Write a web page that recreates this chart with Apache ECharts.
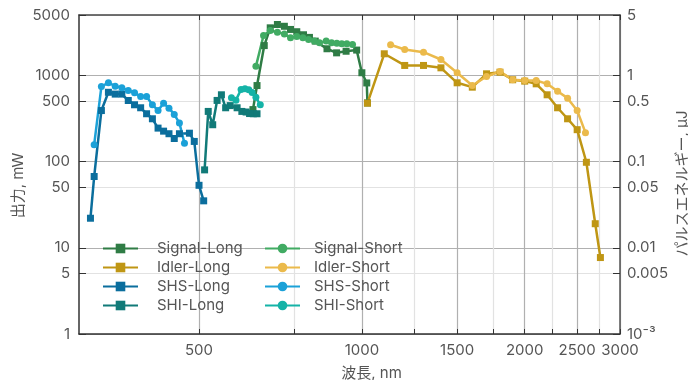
<!DOCTYPE html>
<html>
<head>
<meta charset="utf-8">
<script src="https://cdn.jsdelivr.net/npm/echarts@6/dist/echarts.min.js"></script>
<style>
  html, body { margin: 0; padding: 0; background: #fff; }
  #chart { width: 688px; height: 380px; }
</style>
</head>
<body>
<div id="chart"></div>
<script>
// 波長 (nm) と出力 (mW)
const signalLongWl = [629, 640, 660, 677, 698, 719, 738, 758, 780, 800, 820, 862, 898, 935, 978, 1000, 1021, 1024];
const signalLongPw = [400, 760, 2210, 3550, 3880, 3700, 3400, 3200, 2950, 2750, 2490, 2030, 1820, 1900, 1960, 1070, 815, 478];
const signalShortWl = [637, 658, 677, 698, 719, 738, 758, 778, 797, 817, 835, 859, 879, 899, 918, 938, 961];
const signalShortPw = [1270, 2890, 3300, 3150, 3020, 2720, 2820, 2720, 2600, 2490, 2380, 2490, 2380, 2350, 2320, 2320, 2280];
const idlerLongWl = [1024, 1100, 1200, 1300, 1400, 1500, 1600, 1700, 1800, 1900, 2000, 2100, 2200, 2300, 2400, 2500, 2600, 2700, 2760];
const idlerLongPw = [475, 1775, 1300, 1300, 1220, 818, 728, 1040, 1086, 887, 855, 796, 594, 420, 313, 234, 98, 19, 7.7];
const idlerShortWl = [1130, 1200, 1300, 1400, 1500, 1600, 1700, 1800, 1900, 2000, 2100, 2200, 2300, 2400, 2500, 2590];
const idlerShortPw = [2256, 1990, 1852, 1523, 1069, 762, 968, 1107, 887, 870, 870, 796, 654, 543, 391, 216];
const shsLongWl = [315, 320, 330, 340, 350, 360, 370, 380, 390, 400, 410, 420, 430, 440, 450, 460, 480, 490, 500, 510];
const shsLongPw = [22, 67, 390, 635, 605, 605, 510, 455, 420, 358, 313, 244, 225, 210, 185, 210, 213, 171, 53, 35];
const shsShortWl = [320, 330, 340, 350, 360, 370, 380, 390, 400, 410, 420, 430, 440, 450, 460, 470];
const shsShortPw = [157, 740, 820, 748, 716, 667, 627, 568, 568, 455, 391, 475, 416, 352, 279, 163];
const shiLongWl = [512, 520, 530, 540, 550, 560, 571, 588, 600, 611, 620, 630, 640];
const shiLongPw = [80, 381, 267, 511, 594, 420, 445, 420, 381, 375, 360, 358, 358];
const shiShortWl = [574, 585, 598, 608, 618, 627, 637, 649];
const shiShortPw = [549, 515, 685, 697, 680, 630, 555, 455];

const xTicks = [500, 750, 1000, 1250, 1500, 1750, 2000, 2250, 2500, 2750, 3000];
const xLabels = [500, 1000, 1500, 2000, 2500, 3000];
const yTicks = [1, 5, 10, 50, 100, 500, 1000, 5000];
const y2Ticks = [0.001, 0.005, 0.01, 0.05, 0.1, 0.5, 1, 5];

const font = "Inter, 'Noto Sans CJK JP', sans-serif";
const textColor = "#555";

function pairs(wl, pw) {
  return wl.map((w, i) => [w, pw[i]]);
}

// 桁区切りなしで表示
function plain(v) {
  return String(Math.round(v));
}

function makeSeries(name, wl, pw, color, symbol) {
  return {
    name: name,
    type: "line",
    data: pairs(wl, pw),
    symbol: symbol,
    symbolSize: 7,
    showSymbol: true,
    lineStyle: { width: 2.5, color: color },
    itemStyle: { color: color },
    emphasis: { disabled: true },
  };
}

function legendText(gap) {
  return {
    color: textColor,
    fontFamily: font,
    fontSize: 15,
    padding: [0, 0, 0, gap],
  };
}

const option = {
  animation: false,
  grid: { left: 79, right: 68, top: 15, bottom: 46, outerBoundsMode: "none" },
  legend: [
    {
      orient: "vertical",
      left: 102,
      top: 241,
      padding: 0,
      itemWidth: 35,
      itemHeight: 12,
      itemGap: 4,
      textStyle: legendText(14),
      data: ["Signal-Long", "Idler-Long", "SHS-Long", "SHI-Long"],
    },
    {
      orient: "vertical",
      left: 264,
      top: 241,
      padding: 0,
      itemWidth: 35,
      itemHeight: 12,
      itemGap: 4,
      textStyle: legendText(9),
      data: ["Signal-Short", "Idler-Short", "SHS-Short", "SHI-Short"],
    },
  ],
  xAxis: [
    {
      type: "log",
      logBase: 10,
      min: 300,
      max: 3000,
      name: "波長, nm",
      nameLocation: "middle",
      nameGap: 32,
      nameTextStyle: { color: textColor, fontFamily: font, fontSize: 15, padding: [0, 0, 0, 44] },
      axisLine: { lineStyle: { color: "#333", width: 1.5 } },
      axisTick: { inside: true, length: 5, customValues: xTicks, lineStyle: { color: "#333" } },
      axisLabel: {
        customValues: xLabels,
        color: textColor,
        fontFamily: font,
        fontSize: 15,
        margin: 9,
        formatter: plain,
      },
      splitLine: { show: true, lineStyle: { color: ["#b0b0b0", "#e2e2e2"], width: 1.2 } },
    },
    {
      type: "log",
      logBase: 10,
      min: 300,
      max: 3000,
      position: "top",
      axisLine: { lineStyle: { color: "#444", width: 1.5 } },
      axisTick: { inside: true, length: 5, customValues: xTicks, lineStyle: { color: "#333" } },
      axisLabel: { show: false },
      splitLine: { show: false },
    },
  ],
  yAxis: [
    {
      type: "log",
      logBase: 10,
      min: 1,
      max: 5000,
      name: "出力, mW",
      nameLocation: "middle",
      nameGap: 53,
      nameMoveOverlap: false,
      nameTextStyle: { color: textColor, fontFamily: font, fontSize: 15, padding: [0, 22, 0, 0] },
      axisLine: { show: true, lineStyle: { color: "#333", width: 1.5 } },
      axisTick: { show: true, inside: true, length: 7, customValues: yTicks, lineStyle: { color: "#333" } },
      axisLabel: { customValues: yTicks, color: textColor, fontFamily: font, fontSize: 15, margin: 9, formatter: plain },
      splitLine: { show: true, lineStyle: { color: ["#b0b0b0", "#e2e2e2"], width: 1.2 } },
    },
    {
      type: "log",
      logBase: 10,
      min: 0.001,
      max: 5,
      position: "right",
      name: "パルスエネルギー, μJ",
      nameLocation: "middle",
      nameGap: 55,
      nameRotate: 90,
      nameMoveOverlap: false,
      nameTextStyle: { color: textColor, fontFamily: font, fontSize: 15, padding: [0, 18, 0, 0] },
      axisLine: { show: true, lineStyle: { color: "#555", width: 1.5 } },
      axisTick: { show: true, inside: true, length: 7, customValues: y2Ticks, lineStyle: { color: "#333" } },
      axisLabel: {
        customValues: y2Ticks,
        color: textColor,
        fontFamily: font,
        fontSize: 15,
        margin: 7,
        formatter: function (v) {
          if (v < 0.002) return "10⁻³";
          return String(+v.toPrecision(3));
        },
      },
      splitLine: { show: false },
    },
  ],
  series: [
    makeSeries("Signal-Long", signalLongWl, signalLongPw, "#2f7c45", "rect"),
    makeSeries("Idler-Long", idlerLongWl, idlerLongPw, "#bf9614", "rect"),
    makeSeries("SHS-Long", shsLongWl, shsLongPw, "#0b6e9d", "rect"),
    makeSeries("SHI-Long", shiLongWl, shiLongPw, "#117a78", "rect"),
    makeSeries("Signal-Short", signalShortWl, signalShortPw, "#41ab63", "circle"),
    makeSeries("Idler-Short", idlerShortWl, idlerShortPw, "#ebba4b", "circle"),
    makeSeries("SHS-Short", shsShortWl, shsShortPw, "#1ba1d8", "circle"),
    makeSeries("SHI-Short", shiShortWl, shiShortPw, "#15b3a7", "circle"),
  ],
};

const chart = echarts.init(document.getElementById("chart"));
chart.setOption(option);
</script>
</body>
</html>
